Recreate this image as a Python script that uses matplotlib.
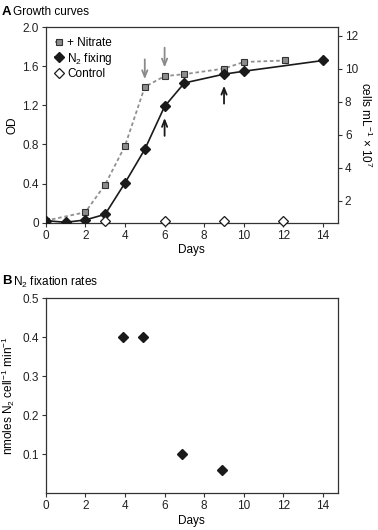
import matplotlib
matplotlib.use("Agg")
import matplotlib.pyplot as plt

plt.rcParams['font.family'] = ['Liberation Sans', 'DejaVu Sans']
plt.rcParams['font.size'] = 8.5
plt.rcParams['mathtext.fontset'] = 'custom'
plt.rcParams['mathtext.rm'] = 'Liberation Sans'

# Panel A data
nitrate_days = [0, 2, 3, 4, 5, 6, 7, 9, 10, 12.1]
nitrate_od = [0.02, 0.106, 0.39, 0.785, 1.39, 1.50, 1.52, 1.577, 1.645, 1.66]
n2_days = [0, 1, 2, 3, 4, 5, 6, 7, 9, 10, 14]
n2_od = [0.02, 0.003, 0.027, 0.085, 0.406, 0.75, 1.19, 1.43, 1.52, 1.55, 1.66]
control_days = [3, 6, 9, 12]
control_od = [0.02, 0.02, 0.02, 0.02]

# Arrows (day, start OD, end OD)
grey_arrows = [(5, 1.70, 1.44), (6, 1.82, 1.56)]
black_arrows = [(6, 0.86, 1.10), (9, 1.19, 1.43)]

# Panel B data
rate_days = [3.92, 4.92, 6.9, 8.92]
rate_vals = [0.40, 0.40, 0.10, 0.061]

od_ticks = [0, 0.4, 0.8, 1.2, 1.6, 2.0]
od_labels = ['0', '0.4', '0.8', '1.2', '1.6', '2.0']
cell_ticks = [2, 4, 6, 8, 10, 12]
day_ticks = [0, 2, 4, 6, 8, 10, 12, 14]
rate_ticks = [0.1, 0.2, 0.3, 0.4, 0.5]

FS = 8.5
fig = plt.figure(figsize=(3.78, 5.30), dpi=100)
axA = fig.add_axes([0.121, 0.580, 0.773, 0.3685])
axB = fig.add_axes([0.121, 0.069, 0.773, 0.368])

spine_col = '#333333'
for ax in (axA, axB):
    for s in ax.spines.values():
        s.set_color(spine_col)
        s.set_linewidth(0.9)
    ax.tick_params(direction='out', length=3, width=0.8, color=spine_col,
                   labelsize=FS, labelcolor='#222222', pad=2)

# Panel A
axA.plot(nitrate_days, nitrate_od, linestyle=(0, (2, 1.5)), color='#909090', lw=1.3,
         marker='s', markersize=5, markerfacecolor='#8c8c8c', markeredgecolor='#333333',
         markeredgewidth=0.8, label='+ Nitrate', zorder=3)
axA.plot(n2_days, n2_od, linestyle='-', color='#1a1a1a', lw=1.2,
         marker='D', markersize=5, markerfacecolor='#1a1a1a', markeredgecolor='#1a1a1a',
         label='N$_2$ fixing', zorder=4)
axA.plot(control_days, control_od, linestyle='none',
         marker='D', markersize=5, markerfacecolor='white', markeredgecolor='#1a1a1a',
         markeredgewidth=0.9, label='Control', zorder=5, clip_on=False)

for d, y0, y1 in grey_arrows:
    axA.annotate('', xy=(d, y1), xytext=(d, y0),
                 arrowprops=dict(arrowstyle='->,head_length=0.55,head_width=0.22',
                                 color='#8a8a8a', lw=1.3))
for d, y0, y1 in black_arrows:
    axA.annotate('', xy=(d, y1), xytext=(d, y0),
                 arrowprops=dict(arrowstyle='->,head_length=0.55,head_width=0.22',
                                 color='#1a1a1a', lw=1.3))

axA.set_xlim(0, 14.75)
axA.set_ylim(0, 2.0)
axA.set_xticks(day_ticks)
axA.set_yticks(od_ticks)
axA.set_yticklabels(od_labels)
axA.set_xlabel('Days', fontsize=FS, labelpad=2)
axA.set_ylabel('OD', fontsize=FS, labelpad=3)

axA2 = axA.twinx()
axA2.set_ylim(0.68, 12.5)
axA2.set_yticks(cell_ticks)
for s in axA2.spines.values():
    s.set_visible(False)
axA2.tick_params(direction='out', length=3, width=0.8, color=spine_col,
                 labelsize=FS, labelcolor='#222222', pad=2)
axA2.set_ylabel('cells mL$^{-1}$ × 10$^{7}$', fontsize=FS, rotation=270, labelpad=11)

leg = axA.legend(loc='upper left', frameon=False, fontsize=FS, handlelength=0.6,
                 handletextpad=0.4, labelspacing=0.15, borderaxespad=0.4,
                 bbox_to_anchor=(0.0, 1.0))

fig.text(0.005, 0.988, 'A', fontsize=9.5, fontweight='bold', va='top', ha='left')
fig.text(0.035, 0.988, 'Growth curves', fontsize=FS, va='top', ha='left')

# Panel B
axB.plot(rate_days, rate_vals, linestyle='none', marker='D', markersize=5,
         markerfacecolor='#1a1a1a', markeredgecolor='#1a1a1a')
axB.set_xlim(0, 14.75)
axB.set_ylim(0, 0.5)
axB.set_xticks(day_ticks)
axB.set_yticks(rate_ticks)
axB.set_xlabel('Days', fontsize=FS, labelpad=2)
axB.set_ylabel('nmoles N$_2$ cell$^{-1}$ min$^{-1}$', fontsize=FS, labelpad=4)

fig.text(0.005, 0.482, 'B', fontsize=9.5, fontweight='bold', va='top', ha='left')
fig.text(0.035, 0.482, 'N$_2$ fixation rates', fontsize=FS, va='top', ha='left')

fig.savefig('out.png', dpi=100)
